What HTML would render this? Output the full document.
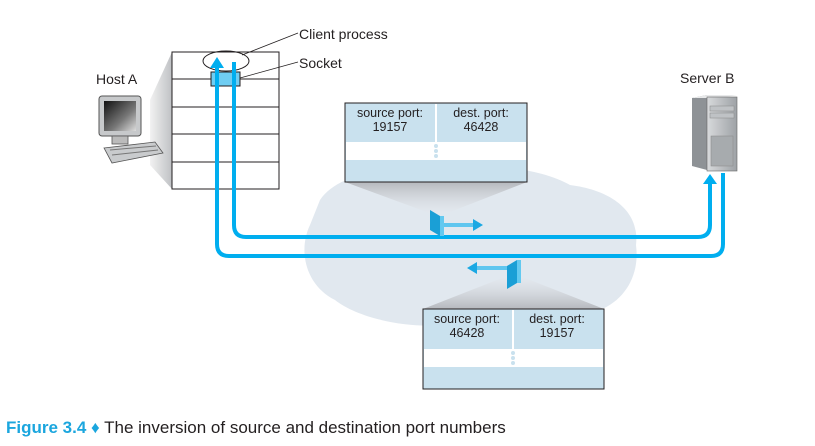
<!DOCTYPE html>
<html><head><meta charset="utf-8"><style>
html,body{margin:0;padding:0;background:#fff;}
svg{display:block;}
text{font-family:"Liberation Sans",sans-serif;fill:#231f20;}
</style></head><body>
<svg width="815" height="446" viewBox="0 0 815 446" xmlns="http://www.w3.org/2000/svg">
<defs>
<linearGradient id="sh" x1="0" y1="0" x2="0" y2="1"><stop offset="0" stop-color="#b5b8bd"/><stop offset="1" stop-color="#e6e9ee" stop-opacity="0.3"/></linearGradient>
<linearGradient id="sh2" x1="0" y1="1" x2="0" y2="0"><stop offset="0" stop-color="#b5b8bd"/><stop offset="1" stop-color="#e6e9ee" stop-opacity="0.3"/></linearGradient>
<linearGradient id="hs" x1="0" y1="0" x2="1" y2="0"><stop offset="0" stop-color="#f2f2f2"/><stop offset="1" stop-color="#bfc1c4"/></linearGradient>
<linearGradient id="scr" x1="0" y1="0" x2="1" y2="1"><stop offset="0" stop-color="#111"/><stop offset="0.6" stop-color="#777"/><stop offset="1" stop-color="#ddd"/></linearGradient>
<linearGradient id="srv" x1="0" y1="0" x2="1" y2="0"><stop offset="0" stop-color="#d8dadc"/><stop offset="1" stop-color="#9ea2a6"/></linearGradient>
</defs>
<!-- cloud -->
<path d="M320,200 C340,170 400,165 440,175 C480,160 540,168 570,185 C610,190 640,210 636,245 C640,275 625,300 600,310 C560,330 500,332 460,322 C420,332 360,320 335,300 C305,285 298,250 310,225 Z" fill="#e1e8ef"/>
<!-- host shadow -->
<polygon points="150,100 172,52 172,189 150,165" fill="url(#hs)"/>
<!-- computer -->
<rect x="99" y="96" width="42" height="40" rx="3" fill="#c7c9cb" stroke="#555" stroke-width="1"/>
<rect x="104" y="101" width="32" height="30" fill="url(#scr)"/>
<rect x="112" y="136" width="16" height="8" fill="#bbb" stroke="#555" stroke-width="0.8"/>
<polygon points="104,148 155,142 163,153 112,163" fill="#c9cbcd" stroke="#555" stroke-width="0.8"/>
<line x1="110" y1="150" x2="156" y2="146" stroke="#777"/>
<line x1="112" y1="155" x2="158" y2="150" stroke="#777"/>
<text x="96" y="84" font-size="14">Host A</text>
<!-- host stack -->
<rect x="172" y="52" width="107" height="137" fill="#fff" stroke="#231f20"/>
<line x1="172" y1="79" x2="279" y2="79" stroke="#231f20"/>
<line x1="172" y1="107" x2="279" y2="107" stroke="#231f20"/>
<line x1="172" y1="134" x2="279" y2="134" stroke="#231f20"/>
<line x1="172" y1="162" x2="279" y2="162" stroke="#231f20"/>
<ellipse cx="226" cy="61" rx="23" ry="10" fill="none" stroke="#231f20"/>
<rect x="211" y="72" width="29" height="14" fill="#6fcdf2" stroke="#231f20"/>
<line x1="242" y1="55" x2="298" y2="33" stroke="#231f20" stroke-width="0.8"/>
<line x1="240" y1="78" x2="298" y2="62" stroke="#231f20" stroke-width="0.8"/>
<text x="299" y="39" font-size="14">Client process</text>
<text x="299" y="68" font-size="14">Socket</text>
<!-- server -->
<text x="680" y="83" font-size="14">Server B</text>
<polygon points="692,98 707,95 707,170 692,166" fill="#8e9296"/>
<polygon points="692,98 707,95 737,95 722,98" fill="#e8e9ea"/>
<rect x="707" y="97" width="30" height="74" fill="url(#srv)" stroke="#666" stroke-width="0.6"/>
<rect x="710" y="106" width="24" height="5" fill="#bfc2c5" stroke="#888" stroke-width="0.5"/>
<rect x="710" y="113" width="24" height="5" fill="#bfc2c5" stroke="#888" stroke-width="0.5"/>
<rect x="711" y="136" width="22" height="30" fill="#a7abae" stroke="#888" stroke-width="0.5"/>
<!-- connection lines -->
<path d="M234,62 V225 Q234,237 246,237 H698 Q710,237 710,225 V182" fill="none" stroke="#00aeef" stroke-width="4"/>
<polygon points="703,184 717,184 710,174" fill="#00aeef"/>
<path d="M217,66 V244 Q217,256 229,256 H711 Q723,256 723,244 V173" fill="none" stroke="#00aeef" stroke-width="4"/>
<polygon points="210,68 224,68 217,57" fill="#00aeef"/>
<!-- packet 1 shadow -->
<polygon points="345,182 527,182 445,214 432,214" fill="url(#sh)"/>
<rect x="345" y="103" width="182" height="79" fill="#c9e1ee" stroke="#231f20"/>
<rect x="346" y="142" width="180" height="18" fill="#fff"/>
<line x1="436" y1="104" x2="436" y2="142" stroke="#fff" stroke-width="2"/>
<circle cx="436" cy="146" r="2" fill="#c9e1ee"/><circle cx="436" cy="151" r="2" fill="#c9e1ee"/><circle cx="436" cy="156" r="2" fill="#c9e1ee"/>
<text x="390" y="117" font-size="12.5" text-anchor="middle">source port:</text>
<text x="390" y="131" font-size="12.5" text-anchor="middle">19157</text>
<text x="481" y="117" font-size="12.5" text-anchor="middle">dest. port:</text>
<text x="481" y="131" font-size="12.5" text-anchor="middle">46428</text>
<polygon points="430,210 440,216 440,236 430,230" fill="#1a9fd6"/>
<rect x="440" y="216" width="4" height="20" fill="#63c9f0"/>
<rect x="444" y="223" width="30" height="4" fill="#5fc6ef"/>
<polygon points="473,219 483,225 473,231" fill="#1aa8e3"/>
<!-- packet 2 -->
<polygon points="423,309 604,309 520,276 507,276" fill="url(#sh2)"/>
<polygon points="507,266 517,260 517,283 507,289" fill="#1a9fd6"/>
<rect x="517" y="260" width="4" height="23" fill="#63c9f0"/>
<rect x="476" y="266" width="31" height="4" fill="#5fc6ef"/>
<polygon points="477,262 467,268 477,274" fill="#1aa8e3"/>
<rect x="423" y="309" width="181" height="80" fill="#c9e1ee" stroke="#231f20"/>
<rect x="424" y="349" width="179" height="18" fill="#fff"/>
<line x1="513" y1="310" x2="513" y2="349" stroke="#fff" stroke-width="2"/>
<circle cx="513" cy="353" r="2" fill="#c9e1ee"/><circle cx="513" cy="358" r="2" fill="#c9e1ee"/><circle cx="513" cy="363" r="2" fill="#c9e1ee"/>
<text x="467" y="323" font-size="12.5" text-anchor="middle">source port:</text>
<text x="467" y="337" font-size="12.5" text-anchor="middle">46428</text>
<text x="557" y="323" font-size="12.5" text-anchor="middle">dest. port:</text>
<text x="557" y="337" font-size="12.5" text-anchor="middle">19157</text>
<!-- caption -->
<text x="6" y="433" font-size="17"><tspan font-weight="bold" style="fill:#1ba6de">Figure 3.4</tspan><tspan style="fill:#1ba6de"> ♦ </tspan><tspan>The inversion of source and destination port numbers</tspan></text>
</svg>
</body></html>
